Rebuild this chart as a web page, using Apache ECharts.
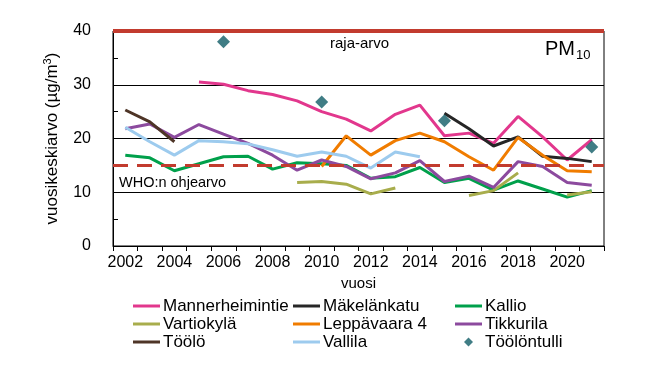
<!DOCTYPE html>
<html>
<head>
<meta charset="utf-8">
<script src="https://cdn.jsdelivr.net/npm/echarts@6/dist/echarts.min.js"></script>
<style>
  html, body { margin: 0; padding: 0; background: #fff; }
  #chart { width: 669px; height: 376px; }
</style>
</head>
<body>
<div id="chart"></div>
<script>
// vuodet
var years = ['2002','2003','2004','2005','2006','2007','2008','2009','2010','2011',
             '2012','2013','2014','2015','2016','2017','2018','2019','2020','2021'];

// vuosikeskiarvot (µg/m3)
var mannerheimintie = [null,null,null,30.5,30.1,28.9,28.2,27.0,25.0,23.6,21.4,24.5,26.2,20.5,21.0,19.1,24.1,20.3,16.0,19.8];
var makelankatu     = [null,null,null,null,null,null,null,null,null,null,null,null,null,24.7,21.8,18.6,20.3,16.7,16.3,15.7];
var kallio          = [16.9,16.4,14.0,15.3,16.6,16.7,14.3,15.5,15.3,15.0,12.6,12.9,14.6,11.8,12.6,10.4,12.1,10.6,9.1,10.3];
var vartiokyla      = [null,null,null,null,null,null,null,11.8,12.0,11.5,9.7,10.8,null,null,9.4,10.3,13.6,null,9.5,10.1];
var leppavaara      = [null,null,null,null,null,null,null,null,14.8,20.5,16.9,19.6,21.0,19.4,16.6,14.1,20.2,16.9,14.0,13.8];
var tikkurila       = [21.8,22.7,20.2,22.6,20.8,19.1,16.9,14.1,16.0,14.8,12.5,13.6,15.9,12.0,13.0,10.9,15.7,14.8,11.8,11.3];
var toolo           = [25.3,23.1,19.4,null,null,null,null,null,null,null,null,null,null,null,null,null,null,null,null,null];
var vallila         = [22.1,19.4,16.9,19.6,19.4,19.0,17.9,16.7,17.5,16.7,14.5,17.5,16.6,null,null,null,null,null,null,null];
var toolontulli     = [null,null,null,null,38.0,null,null,null,26.8,null,null,null,null,23.3,null,null,null,null,null,18.4];

// raja-arvo ja WHO:n ohjearvo
var rajaArvo = 40;
var whoOhjearvo = 15;

var chart = echarts.init(document.getElementById('chart'));

var font = 'Liberation Sans, Arial, sans-serif';
var lineIcon = 'path://M0,0H27V3H0Z';
var diamondIcon = 'path://M4,0L8,4L4,8L0,4Z';

function viiva(name, data, color) {
  return {
    name: name,
    type: 'line',
    data: data,
    symbol: 'none',
    connectNulls: false,
    lineStyle: { width: 3, color: color },
    itemStyle: { color: color },
    z: 3
  };
}

function legenda(left, items) {
  return {
    orient: 'vertical',
    left: left,
    top: 297,
    itemWidth: 27,
    itemHeight: 9,
    itemGap: 0,
    padding: 0,
    symbolKeepAspect: true,
    data: items.map(function (n) {
      return { name: n, icon: n === 'Töölöntulli' ? diamondIcon : lineIcon };
    }),
    textStyle: { fontFamily: font, fontSize: 17, color: '#000', lineHeight: 18, padding: [0, 0, 0, -2] }
  };
}

var option = {
  animation: false,
  textStyle: { fontFamily: font },
  grid: {
    left: 113, right: 65, top: 31, bottom: 130,
    show: true, borderColor: '#000', borderWidth: 1
  },
  legend: [
    legenda(133, ['Mannerheimintie', 'Vartiokylä', 'Töölö']),
    legenda(293, ['Mäkelänkatu', 'Leppävaara 4', 'Vallila']),
    legenda(455, ['Kallio', 'Tikkurila', 'Töölöntulli'])
  ],
  xAxis: {
    type: 'category',
    data: years,
    boundaryGap: true,
    name: 'vuosi',
    nameLocation: 'middle',
    nameGap: 30,
    nameTextStyle: { fontFamily: font, fontSize: 15, color: '#000' },
    axisLine: { lineStyle: { color: '#000', width: 1 } },
    axisTick: { show: true, interval: 0, length: 5, lineStyle: { color: '#000' } },
    axisLabel: { interval: 1, fontFamily: font, fontSize: 16, color: '#000', margin: 9 },
    splitLine: { show: false }
  },
  yAxis: {
    type: 'value',
    min: 0, max: 40, interval: 10,
    name: 'vuosikeskiarvo (µg/m{sup|3})',
    nameLocation: 'middle',
    nameGap: 48,
    nameRotate: 90,
    nameTextStyle: {
      fontFamily: font, fontSize: 17, color: '#000', lineHeight: 20,
      rich: { sup: { fontFamily: font, fontSize: 11, color: '#000', verticalAlign: 'top', lineHeight: 12 } }
    },
    axisLine: { show: true, lineStyle: { color: '#000', width: 1 } },
    axisTick: { show: true, inside: true, length: 5, lineStyle: { color: '#000' } },
    minorTick: { show: true, splitNumber: 2, length: 5, lineStyle: { color: '#000' } },
    axisLabel: { fontFamily: font, fontSize: 16, color: '#000', margin: 22 },
    splitLine: { show: true, lineStyle: { color: '#000', width: 1 } }
  },
  series: [
    viiva('Mannerheimintie', mannerheimintie, '#e2378d'),
    viiva('Mäkelänkatu', makelankatu, '#262626'),
    viiva('Kallio', kallio, '#00a04b'),
    viiva('Vartiokylä', vartiokyla, '#a8ad4c'),
    viiva('Leppävaara 4', leppavaara, '#f07c00'),
    viiva('Tikkurila', tikkurila, '#8c4a9e'),
    viiva('Töölö', toolo, '#4e3527'),
    viiva('Vallila', vallila, '#9dcbee'),
    {
      name: 'Töölöntulli',
      type: 'scatter',
      data: toolontulli,
      symbol: 'diamond',
      symbolSize: 13,
      itemStyle: { color: '#105d66' },
      z: 6
    },
    {
      name: 'rajat',
      type: 'line',
      data: [],
      z: 5,
      markLine: {
        silent: true,
        symbol: 'none',
        label: { show: false },
        data: [
          { yAxis: rajaArvo, lineStyle: { color: '#c23b2e', width: 4, type: 'solid' } },
          { yAxis: whoOhjearvo, lineStyle: { color: '#c23b2e', width: 3, type: [15, 9] } }
        ]
      }
    }
  ],
  graphic: [
    { type: 'text', left: 330, top: 36, style: { text: 'raja-arvo', font: '15px ' + font, fill: '#000' } },
    { type: 'text', left: 119, top: 175, style: { text: 'WHO:n ohjearvo', font: '14.5px ' + font, fill: '#000' } },
    { type: 'text', left: 545, top: 39, style: { text: 'PM', font: '20px ' + font, fill: '#000' } },
    { type: 'text', left: 576, top: 49, style: { text: '10', font: '13px ' + font, fill: '#000' } }
  ]
};

chart.setOption(option);
</script>
</body>
</html>
